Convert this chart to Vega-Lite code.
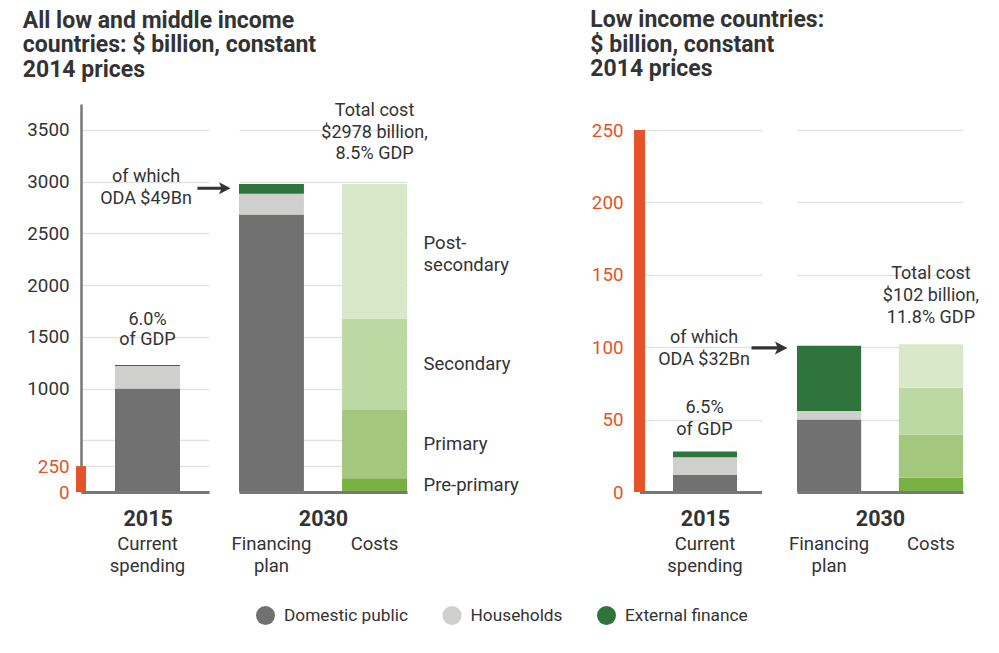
{
  "$schema": "https://vega.github.io/schema/vega-lite/v6.json",
  "padding": {"left": 22, "top": 9, "right": 5, "bottom": 5},
  "background": "white",
  "config": {
    "font": "Roboto",
    "view": {"stroke": null},
    "legend": {
      "orient": "none",
      "legendX": 175,
      "legendY": 502,
      "direction": "horizontal",
      "symbolType": "circle",
      "symbolSize": 361,
      "symbolStrokeWidth": 0,
      "labelFontSize": 17.3,
      "labelColor": "#333333",
      "labelOffset": 9,
      "columnPadding": 33.5,
      "title": null
    }
  },
  "datasets": {
    "bars": [
      {"panel": "LMIC", "year": "2015", "bar": "Current spending", "source": "Domestic public", "rank": 1, "value": 1000},
      {"panel": "LMIC", "year": "2015", "bar": "Current spending", "source": "Households", "rank": 2, "value": 217},
      {"panel": "LMIC", "year": "2015", "bar": "Current spending", "source": "External finance", "rank": 3, "value": 11},
      {"panel": "LMIC", "year": "2030", "bar": "Financing plan", "source": "Domestic public", "rank": 1, "value": 2683},
      {"panel": "LMIC", "year": "2030", "bar": "Financing plan", "source": "Households", "rank": 2, "value": 200},
      {"panel": "LMIC", "year": "2030", "bar": "Financing plan", "source": "External finance", "rank": 3, "value": 95},
      {"panel": "LMIC", "year": "2030", "bar": "Costs", "source": "Pre-primary", "rank": 1, "value": 132, "label": "Pre-primary"},
      {"panel": "LMIC", "year": "2030", "bar": "Costs", "source": "Primary", "rank": 2, "value": 660, "label": "Primary"},
      {"panel": "LMIC", "year": "2030", "bar": "Costs", "source": "Secondary", "rank": 3, "value": 886, "label": "Secondary"},
      {"panel": "LMIC", "year": "2030", "bar": "Costs", "source": "Post-secondary", "rank": 4, "value": 1300, "label": "Post-\nsecondary"},
      {"panel": "LIC", "year": "2015", "bar": "Current spending", "source": "Domestic public", "rank": 1, "value": 12},
      {"panel": "LIC", "year": "2015", "bar": "Current spending", "source": "Households", "rank": 2, "value": 12},
      {"panel": "LIC", "year": "2015", "bar": "Current spending", "source": "External finance", "rank": 3, "value": 4},
      {"panel": "LIC", "year": "2030", "bar": "Financing plan", "source": "Domestic public", "rank": 1, "value": 50},
      {"panel": "LIC", "year": "2030", "bar": "Financing plan", "source": "Households", "rank": 2, "value": 6},
      {"panel": "LIC", "year": "2030", "bar": "Financing plan", "source": "External finance", "rank": 3, "value": 45},
      {"panel": "LIC", "year": "2030", "bar": "Costs", "source": "Pre-primary", "rank": 1, "value": 10, "label": "Pre-primary"},
      {"panel": "LIC", "year": "2030", "bar": "Costs", "source": "Primary", "rank": 2, "value": 29.5, "label": "Primary"},
      {"panel": "LIC", "year": "2030", "bar": "Costs", "source": "Secondary", "rank": 3, "value": 32.5, "label": "Secondary"},
      {"panel": "LIC", "year": "2030", "bar": "Costs", "source": "Post-secondary", "rank": 4, "value": 30, "label": "Post-\nsecondary"}
    ],
    "notes": [
      {"panel": "LMIC", "bar": "Current spending", "kind": "gdp", "text": "6.0%\nof GDP", "at": 1228},
      {"panel": "LMIC", "bar": "Current spending", "kind": "oda", "text": "of which\nODA $49Bn", "at": 2935},
      {"panel": "LMIC", "bar": "Costs", "kind": "total", "text": "Total cost\n$2978 billion,\n8.5% GDP", "at": 2978},
      {"panel": "LIC", "bar": "Current spending", "kind": "gdp", "text": "6.5%\nof GDP", "at": 28},
      {"panel": "LIC", "bar": "Current spending", "kind": "oda", "text": "of which\nODA $32Bn", "at": 99.5},
      {"panel": "LIC", "bar": "Costs", "kind": "total", "text": "Total cost\n$102 billion,\n11.8% GDP", "at": 102}
    ],
    "scale_marker": [
      {"panel": "LMIC", "from": 0, "to": 250},
      {"panel": "LIC", "from": 0, "to": 250}
    ]
  },
  "spacing": 70.5,
  "hconcat": [
    {
      "title": {"text": ["All low and middle income", "countries: $ billion, constant", "2014 prices"], "anchor": "start", "frame": "bounds", "fontSize": 23, "fontWeight": "bold", "color": "#333333", "lineHeight": 24.5, "offset": 20, "dx": -4},
      "bounds": "flush",
      "spacing": 30,
      "hconcat": [
        {
          "width": 128,
          "height": 388,
          "layer": [
            {
              "data": {"name": "bars"},
              "transform": [{"filter": "datum.panel === 'LMIC' && datum.year === '2015'"}],
              "mark": {"type": "bar", "width": 65, "xOffset": 2.5},
              "encoding": {
                "x": {"field": "bar", "type": "nominal",
                  "scale": {"domain": ["Current spending"], "paddingInner": 0, "paddingOuter": 0},
                  "axis": {"title": "2015", "titleX": 66.7, "titleY": 27, "titleBaseline": "middle", "titleFontSize": 21.5, "titleFontWeight": "bold", "titleColor": "#333333",
                    "labelAngle": 0, "labelExpr": "split(datum.label, ' ')", "labelFontSize": 18.5, "labelLineHeight": 22, "labelColor": "#333333", "labelPadding": 42, "labelOffset": 2.5,
                    "ticks": false, "tickSize": 0, "domainColor": "#777777", "domainWidth": 3, "grid": false, "zindex": 1}},
                "y": {"field": "value", "type": "quantitative", "stack": "zero", "title": null,
                  "scale": {"domain": [0, 3750], "nice": false},
                  "axis": {"values": [0, 250, 500, 1000, 1500, 2000, 2500, 3000, 3500], "format": "d",
                    "labelExpr": "datum.value === 500 ? '' : datum.label",
                    "labelColor": {"condition": {"test": "datum.value <= 250", "value": "#e4532a"}, "value": "#333333"},
                    "labelFontSize": 18.8, "labelPadding": 12, "ticks": false, "tickSize": 0,
                    "domain": true, "domainColor": "#777777", "domainWidth": 2.5,
                    "grid": true, "gridColor": "#e3e3e3", "gridWidth": 1.5}},
                "color": {"field": "source", "type": "nominal",
                  "scale": {"domain": ["Domestic public", "Households", "External finance", "Pre-primary", "Primary", "Secondary", "Post-secondary"],
                    "range": ["#717171", "#cfcfcd", "#2e743b", "#78b042", "#a2c77d", "#bcd9a3", "#d8e8c9"]},
                  "legend": {"values": ["Domestic public", "Households", "External finance"], "title": null}},
                "order": {"field": "rank", "type": "quantitative"}
              }
            },
            {
              "data": {"name": "scale_marker"},
              "transform": [{"filter": "datum.panel === 'LMIC'"}],
              "mark": {"type": "rule", "color": "#e4532a", "strokeWidth": 10},
              "encoding": {
                "x": {"datum": "Current spending", "type": "nominal", "bandPosition": 0},
                "y": {"field": "from", "type": "quantitative", "title": null},
                "y2": {"field": "to"}
              }
            },
            {
              "data": {"name": "notes"},
              "transform": [{"filter": "datum.panel === 'LMIC' && datum.kind === 'gdp'"}],
              "mark": {"type": "text", "baseline": "bottom", "dy": -36, "dx": 2.5, "fontSize": 18, "color": "#333333", "lineBreak": "\n", "lineHeight": 20.5},
              "encoding": {
                "x": {"field": "bar", "type": "nominal"},
                "y": {"field": "at", "type": "quantitative", "title": null},
                "text": {"field": "text", "type": "nominal"}
              }
            },
            {
              "data": {"name": "notes"},
              "transform": [{"filter": "datum.panel === 'LMIC' && datum.kind === 'oda'"}],
              "mark": {"type": "text", "baseline": "middle", "dy": -11, "dx": 1, "fontSize": 18, "color": "#333333", "lineBreak": "\n", "lineHeight": 21.6},
              "encoding": {
                "x": {"field": "bar", "type": "nominal"},
                "y": {"field": "at", "type": "quantitative", "title": null},
                "text": {"field": "text", "type": "nominal"}
              }
            },
            {
              "data": {"name": "notes"},
              "transform": [{"filter": "datum.panel === 'LMIC' && datum.kind === 'oda'"}],
              "mark": {"type": "point", "shape": "M-1,-0.09L0.42,-0.09L0.3,-0.36L1,0L0.3,0.36L0.42,0.09L-1,0.09Z", "size": 1100, "filled": true, "color": "#333333", "opacity": 1, "strokeWidth": 0, "xOffset": 69},
              "encoding": {
                "x": {"field": "bar", "type": "nominal"},
                "y": {"field": "at", "type": "quantitative", "title": null}
              }
            }
          ]
        },
        {
          "width": 168,
          "height": 388,
          "layer": [
            {
              "data": {"name": "bars"},
              "transform": [{"filter": "datum.panel === 'LMIC' && datum.year === '2030'"}],
              "mark": {"type": "bar"},
              "encoding": {
                "x": {"field": "bar", "type": "nominal",
                  "scale": {"domain": ["Financing plan", "Costs"], "paddingInner": 0.37, "paddingOuter": 0},
                  "axis": {"title": "2030", "titleY": 27, "titleBaseline": "middle", "titleFontSize": 21.5, "titleFontWeight": "bold", "titleColor": "#333333",
                    "labelAngle": 0, "labelExpr": "split(datum.label, ' ')", "labelFontSize": 18.5, "labelLineHeight": 22, "labelColor": "#333333", "labelPadding": 42,
                    "ticks": false, "tickSize": 0, "domainColor": "#777777", "domainWidth": 3, "grid": false, "zindex": 1}},
                "y": {"field": "value", "type": "quantitative", "stack": "zero", "title": null,
                  "scale": {"domain": [0, 3750], "nice": false},
                  "axis": {"values": [250, 500, 1000, 1500, 2000, 2500, 3000, 3500], "labels": false, "ticks": false, "domain": false,
                    "grid": true, "gridColor": "#e3e3e3", "gridWidth": 1.5}},
                "color": {"field": "source", "type": "nominal",
                  "scale": {"domain": ["Domestic public", "Households", "External finance", "Pre-primary", "Primary", "Secondary", "Post-secondary"],
                    "range": ["#717171", "#cfcfcd", "#2e743b", "#78b042", "#a2c77d", "#bcd9a3", "#d8e8c9"]},
                  "legend": {"values": ["Domestic public", "Households", "External finance"], "title": null}},
                "order": {"field": "rank", "type": "quantitative"}
              }
            },
            {
              "data": {"name": "notes"},
              "transform": [{"filter": "datum.panel === 'LMIC' && datum.kind === 'total'"}],
              "mark": {"type": "text", "baseline": "bottom", "dy": -64, "fontSize": 18, "color": "#333333", "lineBreak": "\n", "lineHeight": 21.7},
              "encoding": {
                "x": {"field": "bar", "type": "nominal"},
                "y": {"field": "at", "type": "quantitative", "title": null},
                "text": {"field": "text", "type": "nominal"}
              }
            },
            {
              "data": {"name": "bars"},
              "transform": [{"filter": "datum.panel === 'LMIC' && datum.bar === 'Costs' && datum.source !== 'Post-secondary'"}],
              "mark": {"type": "text", "align": "left", "baseline": "middle", "dx": 49, "dy": 0, "fontSize": 18.5, "color": "#333333", "lineBreak": "\n", "lineHeight": 21.7},
              "encoding": {
                "x": {"field": "bar", "type": "nominal"},
                "y": {"field": "value", "type": "quantitative", "stack": "zero", "bandPosition": 0.5, "title": null},
                "detail": {"field": "source", "type": "nominal"},
                "order": {"field": "rank", "type": "quantitative"},
                "text": {"field": "label", "type": "nominal"}
              }
            },
            {
              "data": {"name": "bars"},
              "transform": [{"filter": "datum.panel === 'LMIC' && datum.bar === 'Costs'"}],
              "mark": {"type": "text", "align": "left", "baseline": "middle", "dx": 49, "dy": -8, "fontSize": 18.5, "color": "#333333", "lineBreak": "\n", "lineHeight": 21.7},
              "encoding": {
                "x": {"field": "bar", "type": "nominal"},
                "y": {"field": "value", "type": "quantitative", "stack": "zero", "bandPosition": 0.5, "title": null},
                "detail": {"field": "source", "type": "nominal"},
                "order": {"field": "rank", "type": "quantitative"},
                "text": {"condition": {"test": "datum.source === 'Post-secondary'", "field": "label", "type": "nominal"}, "value": ""}
              }
            }
          ]
        }
      ]
    },
    {
      "title": {"text": ["Low income countries:", "$ billion, constant", "2014 prices"], "anchor": "start", "frame": "bounds", "fontSize": 23, "fontWeight": "bold", "color": "#333333", "lineHeight": 24.5, "offset": 23, "dx": -1},
      "bounds": "flush",
      "spacing": 35.5,
      "hconcat": [
        {
          "width": 122,
          "height": 388,
          "layer": [
            {
              "data": {"name": "bars"},
              "transform": [{"filter": "datum.panel === 'LIC' && datum.year === '2015'"}],
              "mark": {"type": "bar", "width": 64, "xOffset": 4.5},
              "encoding": {
                "x": {"field": "bar", "type": "nominal",
                  "scale": {"domain": ["Current spending"], "paddingInner": 0, "paddingOuter": 0},
                  "axis": {"title": "2015", "titleX": 65.5, "titleY": 27, "titleBaseline": "middle", "titleFontSize": 21.5, "titleFontWeight": "bold", "titleColor": "#333333",
                    "labelAngle": 0, "labelExpr": "split(datum.label, ' ')", "labelFontSize": 18.5, "labelLineHeight": 22, "labelColor": "#333333", "labelPadding": 42, "labelOffset": 4.5,
                    "ticks": false, "tickSize": 0, "domainColor": "#777777", "domainWidth": 3, "grid": false, "zindex": 1}},
                "y": {"field": "value", "type": "quantitative", "stack": "zero", "title": null,
                  "scale": {"domain": [0, 268], "nice": false},
                  "axis": {"values": [0, 50, 100, 150, 200, 250], "format": "d",
                    "labelColor": "#e4532a", "labelFontSize": 18.8, "labelPadding": 16.5, "ticks": false, "tickSize": 0,
                    "domain": false, "grid": true, "gridColor": "#e3e3e3", "gridWidth": 1.5}},
                "color": {"field": "source", "type": "nominal",
                  "scale": {"domain": ["Domestic public", "Households", "External finance", "Pre-primary", "Primary", "Secondary", "Post-secondary"],
                    "range": ["#717171", "#cfcfcd", "#2e743b", "#78b042", "#a2c77d", "#bcd9a3", "#d8e8c9"]},
                  "legend": {"values": ["Domestic public", "Households", "External finance"], "title": null}},
                "order": {"field": "rank", "type": "quantitative"}
              }
            },
            {
              "data": {"name": "scale_marker"},
              "transform": [{"filter": "datum.panel === 'LIC'"}],
              "mark": {"type": "rule", "color": "#e4532a", "strokeWidth": 11},
              "encoding": {
                "x": {"datum": "Current spending", "type": "nominal", "bandPosition": 0},
                "y": {"field": "from", "type": "quantitative", "title": null},
                "y2": {"field": "to"}
              }
            },
            {
              "data": {"name": "notes"},
              "transform": [{"filter": "datum.panel === 'LIC' && datum.kind === 'gdp'"}],
              "mark": {"type": "text", "baseline": "bottom", "dy": -34, "dx": 4, "fontSize": 18, "color": "#333333", "lineBreak": "\n", "lineHeight": 21.6},
              "encoding": {
                "x": {"field": "bar", "type": "nominal"},
                "y": {"field": "at", "type": "quantitative", "title": null},
                "text": {"field": "text", "type": "nominal"}
              }
            },
            {
              "data": {"name": "notes"},
              "transform": [{"filter": "datum.panel === 'LIC' && datum.kind === 'oda'"}],
              "mark": {"type": "text", "baseline": "middle", "dy": -9.5, "dx": 3.5, "fontSize": 18, "color": "#333333", "lineBreak": "\n", "lineHeight": 21.6},
              "encoding": {
                "x": {"field": "bar", "type": "nominal"},
                "y": {"field": "at", "type": "quantitative", "title": null},
                "text": {"field": "text", "type": "nominal"}
              }
            },
            {
              "data": {"name": "notes"},
              "transform": [{"filter": "datum.panel === 'LIC' && datum.kind === 'oda'"}],
              "mark": {"type": "point", "shape": "M-1,-0.09L0.42,-0.09L0.3,-0.36L1,0L0.3,0.36L0.42,0.09L-1,0.09Z", "size": 1296, "filled": true, "color": "#333333", "opacity": 1, "strokeWidth": 0, "xOffset": 69},
              "encoding": {
                "x": {"field": "bar", "type": "nominal"},
                "y": {"field": "at", "type": "quantitative", "title": null}
              }
            }
          ]
        },
        {
          "width": 166,
          "height": 388,
          "layer": [
            {
              "data": {"name": "bars"},
              "transform": [{"filter": "datum.panel === 'LIC' && datum.year === '2030'"}],
              "mark": {"type": "bar"},
              "encoding": {
                "x": {"field": "bar", "type": "nominal",
                  "scale": {"domain": ["Financing plan", "Costs"], "paddingInner": 0.37, "paddingOuter": 0},
                  "axis": {"title": "2030", "titleY": 27, "titleBaseline": "middle", "titleFontSize": 21.5, "titleFontWeight": "bold", "titleColor": "#333333",
                    "labelAngle": 0, "labelExpr": "split(datum.label, ' ')", "labelFontSize": 18.5, "labelLineHeight": 22, "labelColor": "#333333", "labelPadding": 42,
                    "ticks": false, "tickSize": 0, "domainColor": "#777777", "domainWidth": 3, "grid": false, "zindex": 1}},
                "y": {"field": "value", "type": "quantitative", "stack": "zero", "title": null,
                  "scale": {"domain": [0, 268], "nice": false},
                  "axis": {"values": [50, 100, 150, 200, 250], "labels": false, "ticks": false, "domain": false,
                    "grid": true, "gridColor": "#e3e3e3", "gridWidth": 1.5}},
                "color": {"field": "source", "type": "nominal",
                  "scale": {"domain": ["Domestic public", "Households", "External finance", "Pre-primary", "Primary", "Secondary", "Post-secondary"],
                    "range": ["#717171", "#cfcfcd", "#2e743b", "#78b042", "#a2c77d", "#bcd9a3", "#d8e8c9"]},
                  "legend": {"values": ["Domestic public", "Households", "External finance"], "title": null}},
                "order": {"field": "rank", "type": "quantitative"}
              }
            },
            {
              "data": {"name": "notes"},
              "transform": [{"filter": "datum.panel === 'LIC' && datum.kind === 'total'"}],
              "mark": {"type": "text", "baseline": "bottom", "dy": -61, "fontSize": 18, "color": "#333333", "lineBreak": "\n", "lineHeight": 21.7},
              "encoding": {
                "x": {"field": "bar", "type": "nominal"},
                "y": {"field": "at", "type": "quantitative", "title": null},
                "text": {"field": "text", "type": "nominal"}
              }
            }
          ]
        }
      ]
    }
  ]
}
